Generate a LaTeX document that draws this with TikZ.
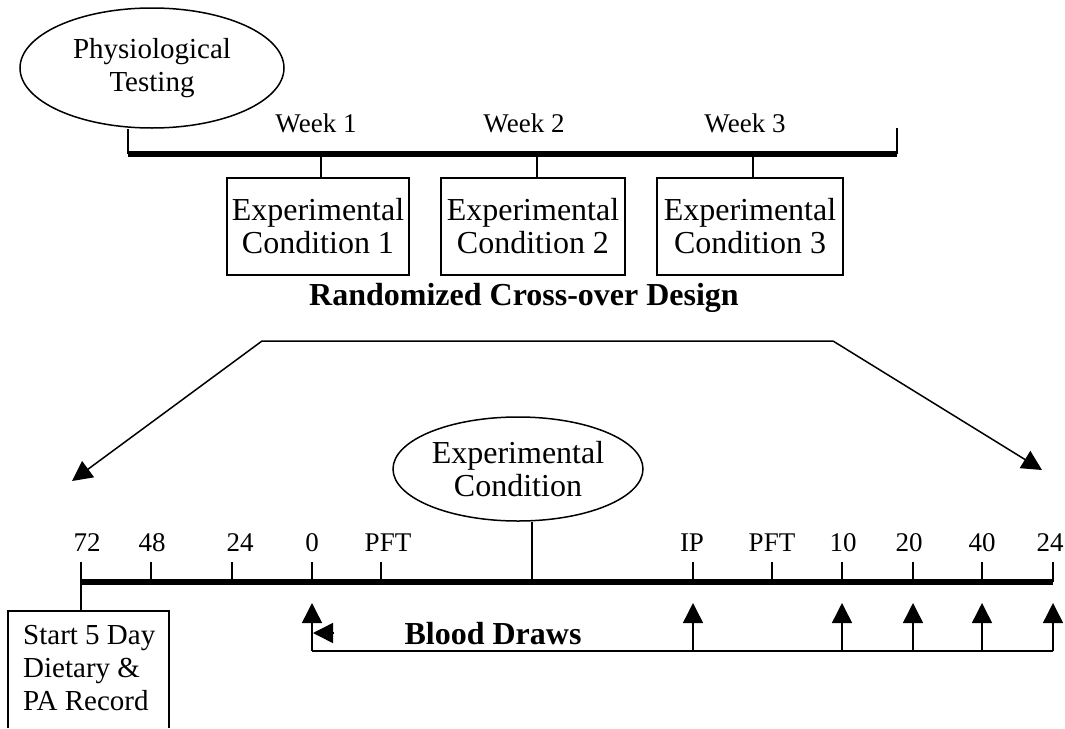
\documentclass[tikz,border=0pt]{standalone}
\usepackage{fontspec}
\setmainfont{Liberation Serif}
\usetikzlibrary{shapes.geometric,arrows.meta}
\begin{document}
\begin{tikzpicture}[x=1pt,y=-1pt,
  thinline/.style={line width=1.5pt},
  boldline/.style={line width=5.5pt},
  arr/.style={line width=1.5pt,-{Triangle[length=20pt,width=20pt]}},
  ovalnode/.style={ellipse,draw,line width=1.5pt,inner sep=0pt,align=center},
  condbox/.style={rectangle,draw,line width=1.5pt,minimum height=97pt,align=center,inner sep=0pt},
  bigtxt/.style={font=\fontsize{32}{33}\selectfont},
  midtxt/.style={font=\fontsize{29}{33}\selectfont},
  smalltxt/.style={font=\fontsize{27}{30}\selectfont},
  boldtxt/.style={font=\fontsize{32}{34}\selectfont\bfseries},
]
\useasboundingbox (0,0) rectangle (1065,728);

% ---------- top part ----------
\node[ovalnode,midtxt,minimum width=264pt,minimum height=120pt] (phys) at (152,68) {Physiological\\Testing};
\coordinate (tA) at (128,154);
\coordinate (tB) at (897,154);
\coordinate (tBtop) at (897,128);
\draw[thinline] (tA |- phys.south) -- (tA);
\draw[boldline] (tA) -- (tB);
\draw[thinline] (tB) -- (tBtop);

\node[smalltxt,anchor=base] (wk1) at (316,132) {Week 1};
\node[smalltxt,anchor=base] (wk2) at (524,132) {Week 2};
\node[smalltxt,anchor=base] (wk3) at (745,132) {Week 3};

\node[condbox,bigtxt,minimum width=182pt] (c1) at (318,226.5) {Experimental\\Condition 1};
\node[condbox,bigtxt,minimum width=184pt] (c2) at (533,226.5) {Experimental\\Condition 2};
\node[condbox,bigtxt,minimum width=186pt] (c3) at (750,226.5) {Experimental\\Condition 3};
\coordinate (tk1) at (321,154);
\coordinate (tk2) at (537,154);
\coordinate (tk3) at (753,154);
\draw[thinline] (tk1) -- (tk1 |- c1.north);
\draw[thinline] (tk2) -- (tk2 |- c2.north);
\draw[thinline] (tk3) -- (tk3 |- c3.north);

\node[boldtxt,anchor=base] (rcd) at (524,305) {Randomized Cross-over Design};

% ---------- bracket arrows ----------
\coordinate (brL) at (262,341);
\coordinate (brR) at (833,341);
\coordinate (tipL) at (72,481);
\coordinate (tipR) at (1042,470);
\draw[arr] (brR) -- (brL) -- (tipL);
\draw[arr] (brR) -- (tipR);

% ---------- bottom part ----------
\node[ovalnode,bigtxt,minimum width=250pt,minimum height=104pt] (ec) at (518,469) {Experimental\\Condition};
\coordinate (ecb) at (532,582);
\draw[thinline] (ecb |- ec.south) -- (ecb);

\coordinate (bA) at (81,582);
\coordinate (bB) at (1053,582);
\draw[boldline] (bA) -- (bB);

\foreach \x/\lx/\t/\n in {81/87/72/a, 151/152/48/b, 232/240/24/c, 312/312/0/d, 381/388/PFT/e, 693/692/IP/f, 772/772/PFT/g, 842/843/10/h, 913/909/20/i, 982/982/40/j, 1053/1050/24/k}{
  \node[smalltxt,anchor=base] (lab\n) at (\lx,551) {\t};
  \coordinate (tk\n) at (\x,582);
  \draw[thinline] (tk\n) -- ++(0,-20);
}

\node[minimum width=161pt,minimum height=117pt,anchor=north,inner sep=0pt] (start) at (88.5,611) {};
\node[midtxt,align=left,anchor=north west,inner sep=0pt] (starttxt) at (23,625) {Start 5 Day\\Dietary \&\\PA Record};
\draw[thinline] (start.south west) -- (start.north west) -- (start.north east) -- (start.south east);
\draw[thinline] (tka) -- (tka |- start.north);

% ---------- blood draws ----------
\foreach \x/\n in {312/d,693/f,842/h,913/i,982/j,1053/k}{
  \coordinate (bd\n) at (\x,651);
  \coordinate (bt\n) at (\x,603);
  \draw[arr] (bd\n) -- (bt\n);
}
\draw[thinline] (bdd) -- (bdk);
\coordinate (lhS) at (334,633);
\coordinate (lhT) at (313,633);
\draw[arr] (lhS) -- (lhT);

\node[boldtxt,anchor=base] (bdraw) at (493,644) {Blood Draws};
\end{tikzpicture}
\end{document}
